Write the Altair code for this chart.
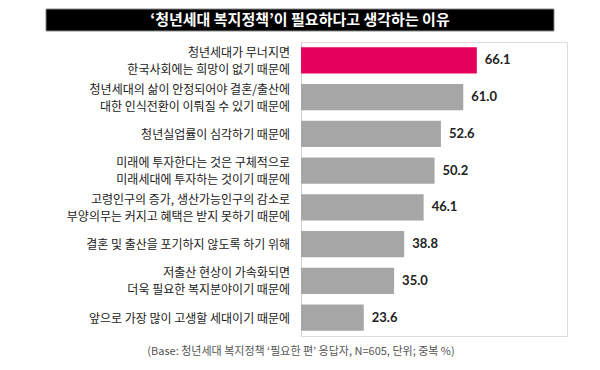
import altair as alt
import pandas as pd

reasons = [
    "청년세대가 무너지면|한국사회에는 희망이 없기 때문에",
    "청년세대의 삶이 안정되어야 결혼/출산에|대한 인식전환이 이뤄질 수 있기 때문에",
    "청년실업률이 심각하기 때문에",
    "미래에 투자한다는 것은 구체적으로|미래세대에 투자하는 것이기 때문에",
    "고령인구의 증가, 생산가능인구의 감소로|부양의무는 커지고 혜택은 받지 못하기 때문에",
    "결혼 및 출산을 포기하지 않도록 하기 위해",
    "저출산 현상이 가속화되면|더욱 필요한 복지분야이기 때문에",
    "앞으로 가장 많이 고생할 세대이기 때문에",
]
values = [66.1, 61.0, 52.6, 50.2, 46.1, 38.8, 35.0, 23.6]
highlight = [True, False, False, False, False, False, False, False]

title_text = "‘청년세대 복지정책’이 필요하다고 생각하는 이유"
note_text = "(Base: 청년세대 복지정책 ‘필요한 편’ 응답자, N=605, 단위; 중복 %)"

df = pd.DataFrame({"reason": reasons, "value": values, "hl": highlight})
df["label"] = df["value"].map(lambda v: f"{v:.1f}")

KR = "Noto Sans CJK KR"
W, H = 266, 294

y_scale = alt.Scale(paddingInner=0.29, paddingOuter=0.145)
y_enc = alt.Y(
    "reason:N",
    sort=reasons,
    scale=y_scale,
    axis=alt.Axis(
        title=None,
        labels=False,
        ticks=False,
        domainColor="#d0d0d0",
        domainWidth=1,
    ),
)
x_enc = alt.X("value:Q", scale=alt.Scale(domain=[0, 100]), axis=None)

bars = alt.Chart(df).mark_bar().encode(
    x=x_enc,
    y=y_enc,
    color=alt.condition("datum.hl", alt.value("#E6005C"), alt.value("#A6A6A6")),
)

label_style = dict(align="right", baseline="middle", font=KR, fontSize=12,
                   color="#1a1a1a", lineBreak="|", lineHeight=17)

cat_labels_two = alt.Chart(df).transform_filter(
    "indexof(datum.reason, '|') >= 0"
).mark_text(dy=-7.5, **label_style).encode(
    x=alt.value(-11), y=alt.Y("reason:N", sort=reasons), text="reason:N"
)
cat_labels_one = alt.Chart(df).transform_filter(
    "indexof(datum.reason, '|') < 0"
).mark_text(dy=1, **label_style).encode(
    x=alt.value(-11), y=alt.Y("reason:N", sort=reasons), text="reason:N"
)

labels = alt.Chart(df).mark_text(
    align="left", baseline="middle", dx=8, font="Lato", fontWeight="bold",
    fontSize=13, color="#222222",
).encode(x=x_enc, y=alt.Y("reason:N", sort=reasons), text="label:N")

title_bg = alt.Chart(pd.DataFrame({"t": [title_text]})).mark_rect(
    color="#000000", stroke="#888888", strokeWidth=1
).encode(
    x=alt.value(-255), x2=alt.value(253), y=alt.value(-33), y2=alt.value(-11)
)
title = alt.Chart(pd.DataFrame({"t": [title_text]})).mark_text(
    font=KR, fontSize=15, fontWeight="bold", color="#ffffff",
    align="center", baseline="middle",
).encode(x=alt.value(-1), y=alt.value(-22), text="t:N")

note = alt.Chart(pd.DataFrame({"t": [note_text]})).mark_text(
    font=KR, fontSize=11, color="#555555", align="center", baseline="middle",
).encode(x=alt.value(0), y=alt.value(H + 16), text="t:N")

chart = alt.layer(
    title_bg, title, bars, labels, cat_labels_two, cat_labels_one, note
).properties(
    width=W, height=H,
    autosize=alt.AutoSizeParams(type="none"),
    padding={"left": 293, "top": 34, "right": 20, "bottom": 26},
).configure_view(stroke=None).configure(background="#ffffff")

chart.save("out.html", embed_options={"renderer": "svg", "actions": False})
